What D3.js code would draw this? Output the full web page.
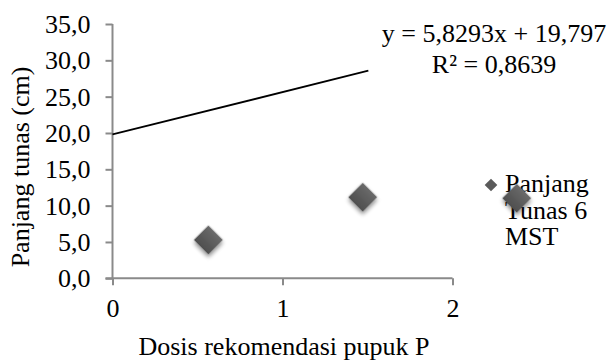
<!DOCTYPE html>
<html>
<head>
<meta charset="utf-8">
<script src="https://cdn.jsdelivr.net/npm/d3@7"></script>
</head>
<body style="margin:0">
<svg id="chart" width="611" height="361" font-family="Liberation Serif" style="display:block;background:#fff"></svg>
<script>
// ---- data ----
const xValues = [0.564, 1.472, 2.378];
const yValues = [5.28, 11.16, 11.02];
const seriesName = ["Panjang", "Tunas 6", "MST"];
const yTicks = [0, 5, 10, 15, 20, 25, 30, 35];
const xTicks = [0, 1, 2];
const trendSlope = 5.8293;
const trendIntercept = 19.797;
const trendRange = [0, 1.505];
const equationLines = ["y = 5,8293x + 19,797", "R² = 0,8639"];
const xTitle = "Dosis rekomendasi pupuk P";
const yTitle = "Panjang tunas (cm)";

// ---- layout ----
const svg = d3.select("#chart");
const FONT = "Liberation Serif";
const fs = 26;
const axisColor = "#8a8a8a";
const x = d3.scaleLinear().domain([0, 2]).range([112.5, 452.5]);
const y = d3.scaleLinear().domain([0, 35]).range([278.3, 24]);
const locale = d3.formatLocale({decimal: ",", thousands: ".", grouping: [3], currency: ["", ""]});
const f1 = locale.format(".1f");

function setFont(sel) {
  return sel.attr("font-family", FONT).style("font-family", `"${FONT}"`).attr("font-size", fs);
}

// shadow filter
const defs = svg.append("defs");
const filt = defs.append("filter").attr("id", "shadow").attr("x", "-50%").attr("y", "-50%").attr("width", "200%").attr("height", "200%");
filt.append("feGaussianBlur").attr("in", "SourceAlpha").attr("stdDeviation", 2).attr("result", "blur");
filt.append("feOffset").attr("in", "blur").attr("dx", 1.5).attr("dy", 2).attr("result", "off");
filt.append("feComponentTransfer").attr("in", "off").attr("result", "offA")
  .append("feFuncA").attr("type", "linear").attr("slope", 0.45);
const merge = filt.append("feMerge");
merge.append("feMergeNode").attr("in", "offA");
merge.append("feMergeNode").attr("in", "SourceGraphic");
const grad = defs.append("linearGradient").attr("id", "dgrad").attr("x1", 0).attr("y1", 0).attr("x2", 0).attr("y2", 1);
grad.append("stop").attr("offset", "0%").attr("stop-color", "#6a6a6a");
grad.append("stop").attr("offset", "100%").attr("stop-color", "#4e4e4e");

// y axis
const gy = svg.append("g").attr("transform", `translate(${x(0)},0)`)
  .call(d3.axisLeft(y).tickValues(yTicks).tickSize(7).tickPadding(15).tickFormat(f1));
setFont(gy);
gy.select(".domain").attr("stroke", axisColor).attr("stroke-width", 2).attr("d", `M0,${y(35)}V${y(0)}`);
gy.selectAll(".tick line").attr("stroke", axisColor).attr("stroke-width", 2);
setFont(gy.selectAll(".tick text")).attr("fill", "#000").attr("dy", "0.33em");

// x axis
const gx = svg.append("g").attr("transform", `translate(0,${y(0)})`)
  .call(d3.axisBottom(x).tickValues(xTicks).tickSize(7).tickPadding(14).tickFormat(d3.format("d")));
setFont(gx);
gx.select(".domain").attr("stroke", axisColor).attr("stroke-width", 2).attr("d", `M${x(0) - 7},0H${x(2)}`);
gx.selectAll(".tick line").attr("stroke", axisColor).attr("stroke-width", 2);
setFont(gx.selectAll(".tick text")).attr("fill", "#000").attr("dy", "0.7em");

// trend line
svg.append("line")
  .attr("x1", x(trendRange[0])).attr("y1", y(trendSlope * trendRange[0] + trendIntercept))
  .attr("x2", x(trendRange[1])).attr("y2", y(trendSlope * trendRange[1] + trendIntercept))
  .attr("stroke", "#000").attr("stroke-width", 1.8);

// equation
const eq = setFont(svg.append("text")).attr("text-anchor", "middle");
equationLines.forEach((t, i) => {
  eq.append("tspan").attr("x", 494).attr("y", 42 + i * 31).text(t);
});

// legend
const legendG = svg.append("g");
legendG.append("path")
  .attr("d", d3.symbol().type(d3.symbolSquare).size(80)())
  .attr("transform", "translate(491,185) rotate(45)")
  .attr("fill", "#5a5a5a");
const lt = setFont(legendG.append("text"));
seriesName.forEach((t, i) => {
  lt.append("tspan").attr("x", 505).attr("y", 192 + i * 26.5).text(t);
});

// points
const diamond = d3.symbol().type(d3.symbolSquare).size(420)();
svg.append("g").selectAll("path").data(xValues.map((d, i) => [d, yValues[i]])).join("path")
  .attr("d", diamond)
  .attr("transform", d => `translate(${x(d[0])},${y(d[1])}) rotate(45)`)
  .attr("fill", "url(#dgrad)")
  .attr("filter", "url(#shadow)");

// axis titles
setFont(svg.append("text")).attr("text-anchor", "middle")
  .attr("x", 284).attr("y", 355).text(xTitle);
setFont(svg.append("text")).attr("text-anchor", "middle")
  .attr("transform", "translate(29,167) rotate(-90)").text(yTitle);
</script>
</body>
</html>
